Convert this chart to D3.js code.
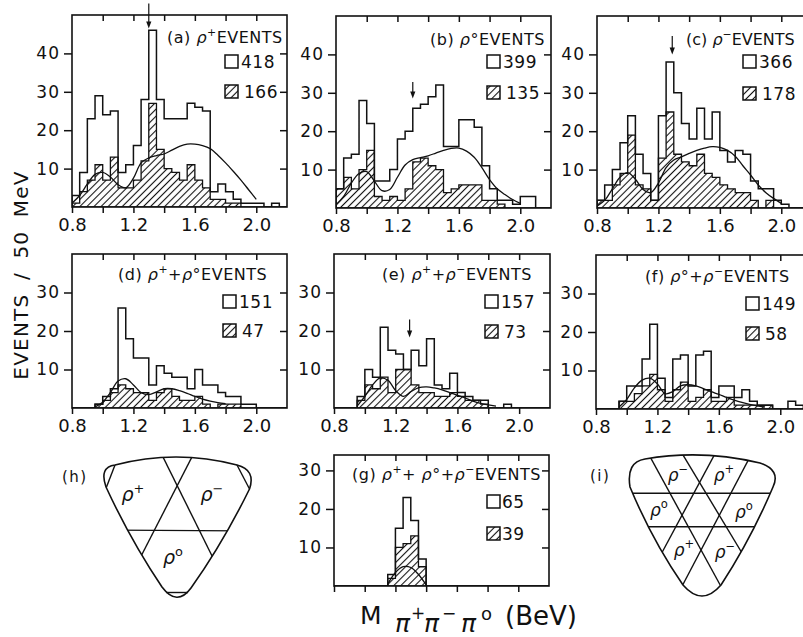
<!DOCTYPE html>
<html>
<head>
<meta charset="utf-8">
<script src="https://cdn.jsdelivr.net/npm/d3@7"></script>
<style>
body { margin: 0; background: #fff; }
svg text { font-family: "DejaVu Sans", sans-serif; fill: #111; }
</style>
</head>
<body>
<div id="chart-area"></div>
<script>
// 50 MeV bins starting at 0.80 BeV
var binStart = 0.8, binWidth = 0.05;
var massTicks = [0.8, 1.0, 1.2, 1.4, 1.6, 1.8, 2.0];
var massLabels = [0.8, 1.2, 1.6, 2.0];
var countTicksTop = [10, 20, 30, 40];
var countTicksMid = [10, 20, 30];

// counts per bin (0.80, 0.85, ... 2.15)
var openA  = [3,9,23,29,24,25,9,11,16,28,46,28,23,23,23,27,26,25,4,6,4,2,1,1,1,0,1,0];
var hatchA = [1,4,7,11,7,13,5,5,7,12,27,15,10,9,7,11,7,5,2,2,1,1,0,0,0,0,0,0];
var openB  = [5,13,14,28,22,7,7,10,18,20,26,27,29,32,16,16,23,23,21,11,5,2,2,1,3,3,0,0];
var hatchB = [5,8,5,10,15,3,2,3,2,5,12,13,11,10,4,5,6,6,6,2,2,1,0,0,0,0,0,0];
var openC  = [2,6,10,17,24,14,9,2,24,38,30,22,18,26,18,25,15,12,15,14,7,5,5,2,1,0,0,0];
var hatchC = [2,2,6,9,19,6,5,2,13,25,14,12,11,14,9,8,6,5,4,4,2,0,2,0,0,0,0,0];
var openD  = [0,0,0,1,3,5,26,18,13,13,6,11,9,8,8,5,10,6,6,4,3,3,1,1,0,0,0,0];
var hatchD = [0,0,0,1,2,4,6,5,4,4,2,4,5,3,2,2,3,1,0,1,1,1,0,0,0,0,0,0];
var openE  = [0,0,0,3,10,8,21,15,14,10,15,11,18,6,5,9,4,3,2,2,0,0,1,0,0,0,0,0];
var hatchE = [0,0,0,2,6,5,8,4,10,10,6,4,4,3,3,4,3,2,2,1,0,0,0,0,0,0,0,0];
var openF  = [0,0,0,2,6,6,13,22,8,3,13,14,6,14,15,3,6,6,3,5,2,1,1,0,0,2,1,0];
var hatchF = [0,0,0,2,2,4,6,9,5,2,5,7,2,3,5,2,2,3,1,1,1,1,1,0,0,0,0,0];
var openG  = [0,0,0,0,0,0,0,3,15,23,17,7,0,0,0,0,0,0,0,0,0,0,0,0,0,0,0,0];
var hatchG = [0,0,0,0,0,0,0,2,10,11,13,5,0,0,0,0,0,0,0,0,0,0,0,0,0,0,0,0];

// fitted curves read at 0.80, 0.85, ... 2.00
var curveMass = [0.80,0.85,0.90,0.95,1.00,1.05,1.10,1.15,1.20,1.25,1.30,1.35,1.40,
                 1.45,1.50,1.55,1.60,1.65,1.70,1.75,1.80,1.85,1.90,1.95,2.00];
var curveA = [1,3,6,8.5,9,7.8,5.8,5,7.5,11.5,12.8,13.4,13.8,14.8,15.8,16.4,16.4,16,15.2,13.5,11.5,9.3,7,4.5,2];
var curveB = [0.8,3,6.5,9,9.5,7,4.5,4.8,8,11.2,12.6,13.1,13.6,14.3,15,15.5,15.6,14.8,13.2,10.5,7.4,5,3.5,2.2,1.2];
var curveC = [0.5,2,5,8,9.2,7.5,4.8,4,6.5,10.5,12.5,13.3,14.2,15,15.6,16,15.8,15,13.5,11,8.6,6,4,2.5,1.2];
var curveD = [null,null,null,0.3,1.5,4,7,7.6,6,4,3.5,4.2,5,5,4.5,3.8,3,2.3,1.8,1.4,1.1,null,null,null,null];
var curveE = [null,null,null,0.5,3,6,7.8,7.2,4.5,3,4.3,5.3,5.5,5.2,4.7,4,3.3,2.6,1.8,1.2,0.8,0.5,null,null,null];
var curveF = [null,null,null,0.5,2.5,5.5,7.5,8,6.5,4,4.5,6,6.3,6,5.3,4.5,3.8,3,2.3,1.7,1.2,0.8,0.5,null,null];
var curveG = [null,null,null,null,null,null,null,0.5,3.5,5,4.8,3,0.3,null,null,null,null,null,null,null,null,null,null,null,null];

// arrows: [mass, tail count, tip count]
var arrowA = [1.30, 53, 46.5];
var arrowB = [1.30, 32.8, 28.5];
var arrowC = [1.29, 44.8, 40];
var arrowE = [1.29, 23, 18.3];

var totals = { a: [418, 166], b: [399, 135], c: [366, 178], d: [151, 47], e: [157, 73], f: [149, 58], g: [65, 39] };

var svg = d3.select("#chart-area")
    .append("svg")
        .attr("width", 803)
        .attr("height", 637);

var defs = svg.append("defs");
defs.append("pattern")
    .attr("id", "hatch")
    .attr("patternUnits", "userSpaceOnUse")
    .attr("width", 5).attr("height", 5)
    .attr("patternTransform", "rotate(45)")
  .append("line")
    .attr("x1", 2.5).attr("y1", 0).attr("x2", 2.5).attr("y2", 5)
    .attr("stroke", "#111").attr("stroke-width", 1.1);

// text with italic rho and raised signs
function richText(parent, x, y, parts, size, anchor) {
    var t = parent.append("text")
        .attr("x", x).attr("y", y)
        .attr("font-size", size)
        .attr("text-anchor", anchor || "start");
    var shift = 0;
    parts.forEach(function(p) {
        var s = t.append("tspan").text(p[0]);
        var kind = p[1] || "";
        if (kind == "s") {
            s.attr("font-size", size * 0.68).attr("dy", -size * 0.42 - shift);
            shift = -size * 0.42;
        } else {
            if (shift != 0) { s.attr("dy", -shift); shift = 0; }
            if (kind == "i") s.attr("font-style", "italic");
        }
    });
    return t;
}

function steps(counts) {
    var pts = [[binStart, 0]];
    counts.forEach(function(v, i) {
        var x0 = binStart + i * binWidth;
        pts.push([x0, v], [x0 + binWidth, v]);
    });
    pts.push([binStart + counts.length * binWidth, 0]);
    return pts;
}

var panels = [
    { id: "a", left: 72, top: 15, width: 215, height: 192, yMax: 50, yTicks: countTicksTop, labels: true,
      open: openA, hatch: hatchA, curve: curveA, arrow: arrowA,
      title: [["(a) "], ["ρ", "i"], ["+", "s"], ["EVENTS"]], tx: 167, ty: 43, ls: 0.5, bx: 225, by: 55, hy: 85 },
    { id: "b", left: 336, top: 16, width: 215, height: 192, yMax: 50, yTicks: countTicksTop, labels: true,
      open: openB, hatch: hatchB, curve: curveB, arrow: arrowB,
      title: [["(b) "], ["ρ", "i"], ["°"], ["EVENTS"]], tx: 430, ty: 45, ls: 0.5, bx: 487, by: 55, hy: 86 },
    { id: "c", left: 597, top: 16, width: 215, height: 192, yMax: 50, yTicks: countTicksTop, labels: true,
      open: openC, hatch: hatchC, curve: curveC, arrow: arrowC,
      title: [["(c) "], ["ρ", "i"], ["−", "s"], ["EVENTS"]], tx: 686, ty: 45, ls: 0, bx: 743, by: 55, hy: 87 },
    { id: "d", left: 72, top: 254, width: 215, height: 154, yMax: 40, yTicks: countTicksMid, labels: true,
      open: openD, hatch: hatchD, curve: curveD, arrow: null,
      title: [["(d) "], ["ρ", "i"], ["+", "s"], ["+"], ["ρ", "i"], ["°"], ["EVENTS"]], tx: 118, ty: 280, ls: 0.5, bx: 223, by: 295, hy: 324 },
    { id: "e", left: 334, top: 254, width: 216, height: 154, yMax: 40, yTicks: countTicksMid, labels: true,
      open: openE, hatch: hatchE, curve: curveE, arrow: arrowE,
      title: [["(e) "], ["ρ", "i"], ["+", "s"], ["+"], ["ρ", "i"], ["−", "s"], ["EVENTS"]], tx: 382, ty: 280, ls: 0.5, bx: 485, by: 295, hy: 325 },
    { id: "f", left: 596, top: 255, width: 215, height: 154, yMax: 40, yTicks: countTicksMid, labels: true,
      open: openF, hatch: hatchF, curve: curveF, arrow: null,
      title: [["(f) "], ["ρ", "i"], ["°"], ["+"], ["ρ", "i"], ["−", "s"], ["EVENTS"]], tx: 645, ty: 282, ls: 0.5, bx: 746, by: 297, hy: 327 },
    { id: "g", left: 334, top: 455, width: 215, height: 131, yMax: 34, yTicks: countTicksMid, labels: false,
      open: openG, hatch: hatchG, curve: curveG, arrow: null,
      title: [["(g) "], ["ρ", "i"], ["+", "s"], ["+ "], ["ρ", "i"], ["°"], ["+"], ["ρ", "i"], ["−", "s"], ["EVENTS"]], tx: 352, ty: 480, ls: 0.5, bx: 487, by: 495, hy: 527 }
];

panels.forEach(drawPanel);

function drawPanel(p) {
    var x = d3.scaleLinear().domain([0.8, 2.2]).range([p.left, p.left + p.width]);
    var y = d3.scaleLinear().domain([0, p.yMax]).range([p.top + p.height, p.top]);
    var bottom = p.top + p.height;

    var g = svg.append("g").attr("class", "panel-" + p.id);

    defs.append("clipPath").attr("id", "clip-" + p.id)
      .append("rect")
        .attr("x", p.left).attr("y", p.top)
        .attr("width", p.width).attr("height", p.height);

    var plot = g.append("g").attr("clip-path", "url(#clip-" + p.id + ")");

    var line = d3.line()
        .x(function(d) { return x(d[0]); })
        .y(function(d) { return y(d[1]); });

    // hatched histogram
    plot.append("path")
        .attr("d", line(steps(p.hatch)) + "Z")
        .attr("fill", "url(#hatch)")
        .attr("stroke", "#111")
        .attr("stroke-width", 1.3);

    // open histogram
    plot.append("path")
        .attr("d", line(steps(p.open)))
        .attr("fill", "none")
        .attr("stroke", "#111")
        .attr("stroke-width", 1.5);

    // fitted curve
    var curveLine = d3.line()
        .defined(function(d) { return d[1] != null; })
        .x(function(d) { return x(d[0]); })
        .y(function(d) { return y(d[1]); })
        .curve(d3.curveCatmullRom);
    plot.append("path")
        .attr("d", curveLine(curveMass.map(function(m, i) { return [m, p.curve[i]]; })))
        .attr("fill", "none")
        .attr("stroke", "#111")
        .attr("stroke-width", 1.3);

    // frame
    g.append("rect")
        .attr("x", p.left).attr("y", p.top)
        .attr("width", p.width).attr("height", p.height)
        .attr("fill", "none")
        .attr("stroke", "#111")
        .attr("stroke-width", 1.6);

    // X Axis
    var xAxisCall = d3.axisBottom(x)
        .tickValues(massTicks)
        .tickSize(6)
        .tickPadding(5)
        .tickSizeOuter(0)
        .tickFormat(function(d) { return (p.labels && massLabels.indexOf(d) >= 0) ? d3.format(".1f")(d) : ""; });
    var xAxisGroup = g.append("g")
        .attr("transform", "translate(0," + bottom + ")")
        .call(xAxisCall);

    var topAxisGroup = g.append("g")
        .attr("transform", "translate(0," + p.top + ")")
        .call(d3.axisBottom(x).tickValues(massTicks.slice(1)).tickSize(6).tickSizeOuter(0).tickFormat(""));

    // Y Axis
    var yAxisCall = d3.axisLeft(y)
        .tickValues(p.yTicks)
        .tickSize(8)
        .tickPadding(4)
        .tickSizeOuter(0)
        .tickFormat(function(d) { return d; });
    var yAxisGroup = g.append("g")
        .attr("transform", "translate(" + p.left + ",0)")
        .call(yAxisCall);

    var rightAxisGroup = g.append("g")
        .attr("transform", "translate(" + (p.left + p.width) + ",0)")
        .call(d3.axisLeft(y).tickValues(p.yTicks).tickSize(7).tickSizeOuter(0).tickFormat(""));

    [xAxisGroup, topAxisGroup, yAxisGroup, rightAxisGroup].forEach(function(ax) {
        ax.select(".domain").remove();
        ax.selectAll(".tick line").attr("stroke", "#111").attr("stroke-width", 1.5);
        ax.attr("font-family", null);
    });
    xAxisGroup.selectAll("text").attr("font-size", 18).attr("fill", "#111");
    yAxisGroup.selectAll("text").attr("font-size", 17).attr("letter-spacing", 1).attr("fill", "#111");

    // arrow marking the omega-like peak
    if (p.arrow) {
        var ax0 = x(p.arrow[0]), ay0 = y(p.arrow[1]), ay1 = y(p.arrow[2]);
        g.append("line")
            .attr("x1", ax0).attr("y1", ay0)
            .attr("x2", ax0).attr("y2", ay1 - 4)
            .attr("stroke", "#111").attr("stroke-width", 1.2);
        g.append("path")
            .attr("d", "M" + (ax0 - 2.6) + "," + (ay1 - 7) + "L" + ax0 + "," + ay1 + "L" + (ax0 + 2.6) + "," + (ay1 - 7) + "Z")
            .attr("fill", "#111");
    }

    // title
    richText(g, p.tx, p.ty, p.title, 16).attr("letter-spacing", p.ls);

    // legend
    g.append("rect")
        .attr("x", p.bx).attr("y", p.by).attr("width", 13).attr("height", 13)
        .attr("fill", "#fff").attr("stroke", "#111").attr("stroke-width", 1.5);
    g.append("text")
        .attr("x", p.bx + (p.id == "g" ? 15 : 16)).attr("y", p.by + 13)
        .attr("font-size", 17).attr("letter-spacing", 0.5)
        .text(totals[p.id][0]);
    g.append("rect")
        .attr("x", p.bx).attr("y", p.hy).attr("width", 13).attr("height", 13)
        .attr("fill", "url(#hatch)").attr("stroke", "#111").attr("stroke-width", 1.5);
    g.append("text")
        .attr("x", p.bx + (p.id == "g" ? 15 : 19)).attr("y", p.hy + 13)
        .attr("font-size", 17).attr("letter-spacing", 0.5)
        .text(totals[p.id][1]);
}

// Y Label
svg.append("text")
    .attr("transform", "translate(28,275) rotate(-90)")
    .attr("text-anchor", "middle")
    .attr("font-size", 20)
    .attr("letter-spacing", 1.2)
    .attr("word-spacing", 6)
    .text("EVENTS / 50 MeV");

// X Label
var xl = svg.append("g");
xl.append("text").attr("x", 360).attr("y", 624).attr("font-size", 25).text("M");
[["π", 395, 632, 25, "italic"], ["+", 411, 619, 17, null], ["π", 424, 632, 25, "italic"],
 ["−", 442, 619, 17, null], ["π", 461, 632, 25, "italic"], ["o", 481, 620, 18, null]].forEach(function(c) {
    xl.append("text").attr("x", c[1]).attr("y", c[2]).attr("font-size", c[3])
        .attr("font-style", c[4]).text(c[0]);
});
xl.append("text").attr("x", 505).attr("y", 625).attr("font-size", 26).text("(BeV)");

// Dalitz plot sketches (h) and (i)
function sketch(id, outline, chords, segs, labels, tag) {
    var g = svg.append("g");
    defs.append("clipPath").attr("id", "clip-" + id).append("path").attr("d", outline);
    var inner = g.append("g").attr("clip-path", "url(#clip-" + id + ")");
    segs.forEach(function(s) {
        inner.append("line")
            .attr("x1", s[0]).attr("y1", s[1]).attr("x2", s[2]).attr("y2", s[3])
            .attr("stroke", "#111").attr("stroke-width", 1.4);
    });
    chords.forEach(function(s) {
        g.append("line")
            .attr("x1", s[0]).attr("y1", s[1]).attr("x2", s[2]).attr("y2", s[3])
            .attr("stroke", "#111").attr("stroke-width", 1.4);
    });
    g.append("path").attr("d", outline)
        .attr("fill", "none").attr("stroke", "#111").attr("stroke-width", 1.6);
    labels.forEach(function(l) {
        richText(g, l[0], l[1], [["ρ", "i"], [l[2], "s"]], l[3], "middle");
    });
    g.append("text").attr("x", tag[0]).attr("y", tag[1]).attr("font-size", 15)
        .attr("letter-spacing", 1.5).text(tag[2]);
}

var hPath = d3.path();
hPath.moveTo(115, 465);
hPath.quadraticCurveTo(176, 449, 237, 465);
hPath.quadraticCurveTo(256, 470, 249.5, 489);
hPath.quadraticCurveTo(223, 543, 191, 588);
hPath.quadraticCurveTo(177, 607, 162, 587);
hPath.quadraticCurveTo(131, 541, 106, 487);
hPath.quadraticCurveTo(99, 467, 115, 465);
hPath.closePath();

sketch("h", hPath.toString(),
    [[115, 465, 106.5, 487], [237, 465, 249.5, 489], [166, 592.5, 188, 592.5]],
    [[160, 451, 218, 568], [195, 451, 136, 566], [100, 530, 260, 531]],
    [[133, 500.5, "+", 19], [212, 500.5, "−", 19], [173, 563.5, "o", 19]],
    [62, 482, "(h)"]);

var iPath = d3.path();
iPath.moveTo(645, 459);
iPath.quadraticCurveTo(702, 449, 760, 463);
iPath.quadraticCurveTo(781, 470, 773, 487);
iPath.quadraticCurveTo(751, 539, 721, 585);
iPath.quadraticCurveTo(702, 607, 683, 585);
iPath.quadraticCurveTo(652, 540, 630, 487);
iPath.quadraticCurveTo(626, 462, 645, 459);
iPath.closePath();

sketch("i", iPath.toString(),
    [],
    [[620, 493.3, 790, 493.3], [620, 526.7, 790, 526.7],
     [648, 453, 724, 592], [680, 450, 745, 558],
     [717, 450, 658, 560], [752, 453, 679, 592]],
    [[678, 480.5, "−", 17], [724, 480.5, "+", 17], [659, 515.5, "o", 17],
     [744, 517.5, "o", 17], [684, 555.5, "+", 17], [725, 557.5, "−", 17]],
    [590, 481, "(i)"]);
</script>
</body>
</html>
